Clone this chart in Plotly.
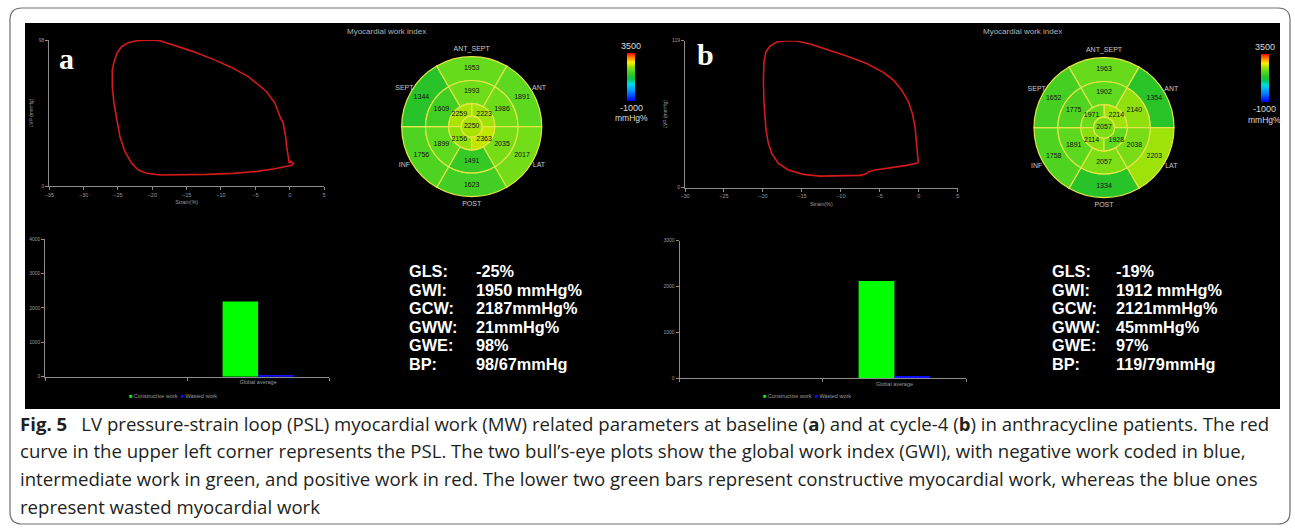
import plotly.graph_objects as go

W, H = 1295, 528

# ------------------------------------------------------------------ data
# pressure-strain loop (a: baseline, b: cycle-4)
strain_a = [-0.05, -0.20, -0.44, -0.59, -0.93, -1.41, -2.14, -3.35, -4.81, -6.02, -8.69, -11.12,
            -14.03, -16.94, -18.88, -20.34, -22.28, -23.50, -24.47, -25.10, -25.58, -25.83, -25.83,
            -25.58, -25.19, -24.71, -23.98, -23.01, -22.04, -20.83, -18.88, -15.97, -12.09, -8.21,
            -4.81, -2.38, -0.44, 0.29, 0.53, 0.14, -0.05]
lvp_a = [15.2, 18.6, 26.4, 33.1, 42.1, 46.5, 55.5, 63.3, 68.9, 73.4, 80.1, 85.0,
         90.2, 94.6, 97.5, 98.0, 97.5, 96.2, 93.5, 89.5, 83.4, 77.8, 66.7,
         55.5, 44.3, 33.1, 23.0, 15.2, 10.7, 8.5, 7.4, 7.4, 7.8, 8.5,
         9.8, 11.4, 13.0, 13.9, 15.2, 16.6, 15.2]
strain_b = [-0.05, -0.14, -0.26, -0.48, -0.82, -1.33, -2.19, -3.26, -4.54, -6.68, -9.25, -11.81,
            -13.95, -15.67, -16.95, -18.23, -19.09, -19.60, -19.86, -19.94, -19.86, -19.60, -19.30,
            -18.87, -18.02, -16.73, -14.81, -12.67, -10.10, -7.54, -6.89, -6.47, -5.61, -3.68,
            -1.55, -0.05]
lvp_b = [20.2, 27.8, 38.6, 49.4, 60.2, 69.6, 79.0, 87.1, 93.4, 100.6, 106.6, 112.0,
         116.3, 118.7, 119.0, 117.9, 114.7, 110.1, 102.0, 87.1, 68.3, 46.7, 35.9,
         27.8, 19.7, 14.3, 10.8, 9.4, 9.4, 10.0, 10.8, 12.7, 14.3, 16.2,
         18.1, 20.2]
strain_ticks_a = [-35, -30, -25, -20, -15, -10, -5, 0, 5]
strain_ticks_b = [-30, -25, -20, -15, -10, -5, 0, 5]
lvp_ticks_a = [0, 98]
lvp_ticks_b = [0, 119]

# bull's-eye (17 segment) myocardial work index, mmHg%
wall_labels = ["ANT_SEPT", "ANT", "LAT", "POST", "INF", "SEPT"]
basal_a = [1953, 1891, 2017, 1623, 1756, 1344]
mid_a = [1993, 1986, 2035, 1491, 1899, 1609]
apical_a = [2223, 2259, 2156, 2363]
apex_a = [2250]
basal_b = [1963, 1354, 2203, 1334, 1758, 1652]
mid_b = [1902, 2140, 2038, 2057, 1891, 1775]
apical_b = [2214, 1971, 2114, 1928]
apex_b = [2057]
scale_min, scale_max = -1000, 3500

# global work bars
bar_categories = [" ", "Global average"]
constructive_a = [None, 2187]
wasted_a = [None, 21]
constructive_b = [None, 2121]
wasted_b = [None, 45]
bar_ticks_a = [0, 1000, 2000, 3000, 4000]
bar_ticks_b = [0, 1000, 2000, 3000]

# parameter table
param_names = ["GLS:", "GWI:", "GCW:", "GWW:", "GWE:", "BP:"]
param_a = ["-25%", "1950 mmHg%", "2187mmHg%", "21mmHg%", "98%", "98/67mmHg"]
param_b = ["-19%", "1912 mmHg%", "2121mmHg%", "45mmHg%", "97%", "119/79mmHg"]

caption_lines = [
    "<b>Fig. 5</b>\u2002 LV pressure-strain loop (PSL) myocardial work (MW) related parameters at baseline (<b>a</b>) and at cycle-4 (<b>b</b>) in anthracycline patients. The red",
    "curve in the upper left corner represents the PSL. The two bull\u2019s-eye plots show the global work index (GWI), with negative work coded in blue,",
    "intermediate work in green, and positive work in red. The lower two green bars represent constructive myocardial work, whereas the blue ones",
    "represent wasted myocardial work",
]

# ------------------------------------------------------------------ helpers
def fx(px):
    return px / W


def fy(py):
    return 1 - py / H


GRAY = "#9a9a9a"
AXC = "#8c8c8c"
SANS = "Liberation Sans, Arial, sans-serif"
COLORSCALE = [
    [0.0, "rgb(0,0,255)"],
    [0.2, "rgb(0,140,255)"],
    [0.35, "rgb(0,220,230)"],
    [0.45, "rgb(0,200,90)"],
    [0.52, "rgb(40,195,40)"],
    [0.65, "rgb(95,218,30)"],
    [0.74, "rgb(185,230,0)"],
    [0.8, "rgb(255,240,0)"],
    [0.9, "rgb(255,140,0)"],
    [1.0, "rgb(255,0,0)"],
]

fig = go.Figure()

# ------------------------------------------------------------------ panels
panels = [
    dict(strain=strain_a, lvp=lvp_a, sticks=strain_ticks_a, lticks=lvp_ticks_a,
         loop_x=(49.3, 324.0), loop_y=(186.0, 40.0),
         bar_x=(45.3, 329.0), bar_y=(376.7, 239.0), bticks=bar_ticks_a,
         cons=constructive_a, wast=wasted_a,
         basal=basal_a, mid=mid_a, apical=apical_a, apex=apex_a,
         be_c=(471.7, 126.7), cb_c=(631.3, 77.0), title_x=345,
         params=param_a, tab_x=(407, 474), letter="a", letter_xy=(66.5, 58.5),
         legend_x=127, xa="x", ya="y", xb="x2", yb="y2", polar="polar"),
    dict(strain=strain_b, lvp=lvp_b, sticks=strain_ticks_b, lticks=lvp_ticks_b,
         loop_x=(685.0, 957.7), loop_y=(187.7, 40.7),
         bar_x=(679.6, 966.0), bar_y=(378.0, 240.7), bticks=bar_ticks_b,
         cons=constructive_b, wast=wasted_b,
         basal=basal_b, mid=mid_b, apical=apical_b, apex=apex_b,
         be_c=(1104.0, 127.7), cb_c=(1264.7, 78.0), title_x=981,
         params=param_b, tab_x=(1050, 1114), letter="b", letter_xy=(705.0, 55.0),
         legend_x=761, xa="x3", ya="y3", xb="x4", yb="y4", polar="polar2"),
]

ring_theta = [90, 30, -30, -90, -150, 150]
apical_theta = [45, 135, 225, 315]
R_PX = 70.0     # pixel radius of the outer ring (radial value 1.0)
R_MAX = 1.25    # radial range, leaves room for the wall labels

layout_axes = {}
annotations = []


def note(text, px, py, size, color, family=SANS, xanchor="left"):
    annotations.append(dict(text=text, x=fx(px), y=fy(py), xref="paper", yref="paper",
                            xanchor=xanchor, yanchor="middle", showarrow=False,
                            font=dict(size=size, color=color, family=family)))


for p in panels:
    # --- pressure-strain loop
    fig.add_trace(go.Scatter(x=p["strain"], y=p["lvp"], mode="lines",
                             line=dict(color="#d41a1a", width=1.6),
                             xaxis=p["xa"], yaxis=p["ya"], showlegend=False,
                             hoverinfo="skip"))
    xa_key = "xaxis" + p["xa"][1:]
    ya_key = "yaxis" + p["ya"][1:]
    layout_axes[xa_key] = dict(
        domain=[fx(p["loop_x"][0]), fx(p["loop_x"][1])], anchor=p["ya"],
        range=[p["sticks"][0], p["sticks"][-1]], tickvals=p["sticks"],
        showgrid=False, zeroline=False, showline=True, linecolor=AXC, linewidth=1,
        ticks="outside", ticklen=3, tickcolor=AXC, tickfont=dict(size=5.5, color=GRAY, family=SANS),
        title=dict(text="Strain(%)", font=dict(size=5.5, color=GRAY, family=SANS), standoff=3))
    layout_axes[ya_key] = dict(
        domain=[fy(p["loop_y"][0]), fy(p["loop_y"][1])], anchor=p["xa"],
        range=[p["lticks"][0], p["lticks"][-1]], tickvals=p["lticks"],
        showgrid=False, zeroline=False, showline=True, linecolor=AXC, linewidth=1,
        ticks="outside", ticklen=3, tickcolor=AXC, tickfont=dict(size=5, color=GRAY, family=SANS),
        title=dict(text="LVP (mmHg)", font=dict(size=5, color=GRAY, family=SANS), standoff=4))

    # --- bar chart
    fig.add_trace(go.Bar(x=bar_categories, y=p["cons"], name="Constructive work",
                         marker=dict(color="#00ff00", line=dict(width=0)),
                         xaxis=p["xb"], yaxis=p["yb"], showlegend=False))
    fig.add_trace(go.Bar(x=bar_categories, y=p["wast"], name="Wasted work",
                         marker=dict(color="#1010ff", line=dict(width=0)),
                         xaxis=p["xb"], yaxis=p["yb"], showlegend=False))
    xb_key = "xaxis" + p["xb"][1:]
    yb_key = "yaxis" + p["yb"][1:]
    layout_axes[xb_key] = dict(
        domain=[fx(p["bar_x"][0]), fx(p["bar_x"][1])], anchor=p["yb"],
        type="category", categoryorder="array", categoryarray=bar_categories,
        range=[-0.5, 1.5], tickson="boundaries",
        showgrid=False, zeroline=False, showline=True, linecolor=AXC, linewidth=1,
        ticks="outside", ticklen=3, tickcolor=AXC, tickfont=dict(size=5.5, color=GRAY, family=SANS))
    layout_axes[yb_key] = dict(
        domain=[fy(p["bar_y"][0]), fy(p["bar_y"][1])], anchor=p["xb"],
        range=[p["bticks"][0], p["bticks"][-1]], tickvals=p["bticks"],
        showgrid=False, zeroline=False, showline=True, linecolor=AXC, linewidth=1,
        ticks="outside", ticklen=3, tickcolor=AXC, tickfont=dict(size=5, color=GRAY, family=SANS))

    # --- bull's-eye
    vals = p["basal"] + p["mid"] + p["apical"] + p["apex"]
    thetas = ring_theta + ring_theta + apical_theta + [0]
    widths = [60] * 12 + [90] * 4 + [360]
    bases = [0.66] * 6 + [0.33] * 6 + [0.15] * 4 + [0.0]
    rs = [0.34] * 6 + [0.33] * 6 + [0.18] * 4 + [0.15]
    fig.add_trace(go.Barpolar(
        r=rs, base=bases, theta=thetas, width=widths, subplot=p["polar"],
        marker=dict(color=vals, colorscale=COLORSCALE, cmin=scale_min, cmax=scale_max,
                    line=dict(color="#e6e64a", width=1.2), showscale=True,
                    colorbar=dict(x=fx(p["cb_c"][0]), y=fy(p["cb_c"][1]), xanchor="center",
                                  yanchor="middle", len=48, lenmode="pixels", thickness=8,
                                  thicknessmode="pixels", showticklabels=False, ticks="",
                                  outlinewidth=0, borderwidth=0, xpad=0, ypad=0)),
        showlegend=False, hoverinfo="skip"))
    text_r = [0.83] * 6 + [0.5] * 6 + [0.25] * 4 + [0.0]
    fig.add_trace(go.Scatterpolar(
        r=text_r, theta=thetas, mode="text", text=[str(v) for v in vals],
        textfont=dict(size=7, color="#111111", family=SANS), subplot=p["polar"],
        showlegend=False, hoverinfo="skip", cliponaxis=False))
    fig.add_trace(go.Scatterpolar(
        r=[1.11] * 6, theta=ring_theta, mode="text", text=wall_labels,
        textfont=dict(size=7, color="#c8c8c8", family=SANS), subplot=p["polar"],
        showlegend=False, hoverinfo="skip", cliponaxis=False))
    cx, cy = p["be_c"]
    half = R_PX * R_MAX
    layout_axes[p["polar"]] = dict(
        domain=dict(x=[fx(cx - half), fx(cx + half)], y=[fy(cy + half), fy(cy - half)]),
        bgcolor="rgba(0,0,0,0)",
        radialaxis=dict(visible=False, range=[0, R_MAX]),
        angularaxis=dict(visible=False, rotation=0, direction="counterclockwise"))

    # --- texts inside the panel
    note("Myocardial work index", p["title_x"], 32, 8, "#b4b4b4")
    ccx, ccy = p["cb_c"]
    note("3500", ccx, ccy - 31, 9, "#dcdcdc", xanchor="center")
    note("-1000", ccx, ccy + 30.5, 9, "#dcdcdc", xanchor="center")
    note("mmHg%", ccx, ccy + 41.5, 8.5, "#dcdcdc", xanchor="center")
    note("<b>" + p["letter"] + "</b>", p["letter_xy"][0], p["letter_xy"][1], 30, "white",
         family="Liberation Serif, serif", xanchor="center")
    note("<span style='color:#00ff00'>\u25a0</span> Constructive work  "
         "<span style='color:#1010ff'>\u25a0</span> Wasted work",
         p["legend_x"], 396, 5.5, GRAY)
    for i, (nm, val) in enumerate(zip(param_names, p["params"])):
        yy = 271.0 + i * 18.5
        note("<b>" + nm + "</b>", p["tab_x"][0], yy, 16.3, "white")
        note("<b>" + val + "</b>", p["tab_x"][1], yy, 16.3, "white")

# caption
for i, line in enumerate(caption_lines):
    note(line, 18, 423 + i * 27.7, 18.6, "#231f20", family="Open Sans, sans-serif")


# ------------------------------------------------------------------ frame shapes
def rounded_rect(x0, y0, x1, y1, r):
    rx, ry = r / W, r / H
    X0, X1 = fx(x0), fx(x1)
    Y0, Y1 = fy(y0), fy(y1)  # Y0 top (larger), Y1 bottom
    return (f"M {X0 + rx},{Y0} L {X1 - rx},{Y0} Q {X1},{Y0} {X1},{Y0 - ry} "
            f"L {X1},{Y1 + ry} Q {X1},{Y1} {X1 - rx},{Y1} "
            f"L {X0 + rx},{Y1} Q {X0},{Y1} {X0},{Y1 + ry} "
            f"L {X0},{Y0 - ry} Q {X0},{Y0} {X0 + rx},{Y0} Z")


shapes = [
    dict(type="path", path=rounded_rect(10, 8, 1290, 524, 12), xref="paper", yref="paper",
         line=dict(color="#6e6e6e", width=1.2), fillcolor="white", layer="below"),
    dict(type="rect", x0=fx(25), x1=fx(1280), y0=fy(409), y1=fy(23), xref="paper", yref="paper",
         line=dict(width=0), fillcolor="black", layer="below"),
]

fig.update_layout(
    width=W, height=H, autosize=False,
    margin=dict(l=0, r=0, t=0, b=0, pad=0, autoexpand=False),
    paper_bgcolor="white", plot_bgcolor="rgba(0,0,0,0)",
    barmode="group", bargap=0.5, bargroupgap=0,
    showlegend=False,
    shapes=shapes, annotations=annotations,
    **layout_axes,
)

fig.write_html("out.html", config={"displayModeBar": False},
               post_script="document.body.style.margin='0';")
